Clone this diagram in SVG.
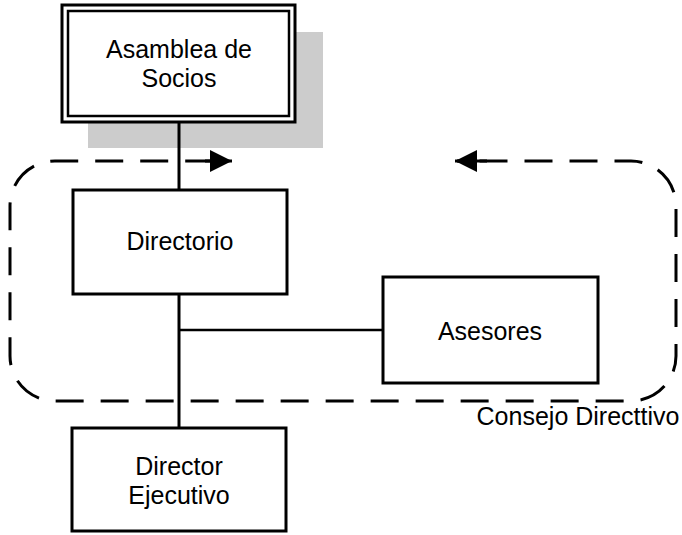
<svg xmlns="http://www.w3.org/2000/svg" width="682" height="535" viewBox="0 0 682 535">
<style>
.box{fill:#fff;stroke:#000;stroke-width:3}
.inner{fill:none;stroke:#000;stroke-width:2.5}
.lbl{font-family:"Liberation Sans",Arial,sans-serif;font-size:25px;fill:#000;text-anchor:middle}
.conn{stroke:#000;stroke-width:3;fill:none}
.dash{stroke:#000;stroke-width:3;fill:none;stroke-dasharray:28 17;stroke-dashoffset:22.5}
</style>
<defs>
<marker id="ah" viewBox="0 0 22 22" refX="22" refY="11" markerUnits="userSpaceOnUse" markerWidth="22" markerHeight="22" orient="auto-start-reverse">
<path d="M0,0 L22,11 L0,22 Z" fill="#000"/>
</marker>
</defs>
<rect x="88" y="32" width="235" height="116" fill="#cccccc"/>
<g id="connectors">
<line class="conn" x1="179" y1="122" x2="179" y2="190"/>
<line class="conn" x1="179" y1="294" x2="179" y2="428"/>
<line class="conn" x1="179" y1="330" x2="383" y2="330" style="stroke-width:2.5"/>
<path class="dash" d="M457,161 L631,161 A45,45 0 0 1 676,206 L676,356 A45,45 0 0 1 631,401 L55,401 A45,45 0 0 1 10,356 L10,206 A45,45 0 0 1 55,161 L212,161"/>
<line class="conn" x1="455" y1="161" x2="487" y2="161" marker-start="url(#ah)"/>
<line class="conn" x1="205" y1="161" x2="232" y2="161" marker-end="url(#ah)"/>
</g>
<g id="asamblea">
<rect class="box" x="62" y="5" width="233" height="117"/>
<rect class="inner" x="68" y="11" width="221" height="105"/>
<text class="lbl" x="179" y="58">Asamblea de</text>
<text class="lbl" x="179" y="87">Socios</text>
</g>
<g id="directorio">
<rect class="box" x="73" y="190" width="214" height="104"/>
<text class="lbl" x="180" y="250">Directorio</text>
</g>
<g id="asesores">
<rect class="box" x="383" y="277" width="215" height="106"/>
<text class="lbl" x="490" y="340">Asesores</text>
</g>
<g id="director">
<rect class="box" x="72" y="428" width="214" height="103"/>
<text class="lbl" x="179" y="475">Director</text>
<text class="lbl" x="179" y="504">Ejecutivo</text>
</g>
<g id="consejo-label">
<text class="lbl" x="578" y="425">Consejo Directtivo</text>
</g>
</svg>
